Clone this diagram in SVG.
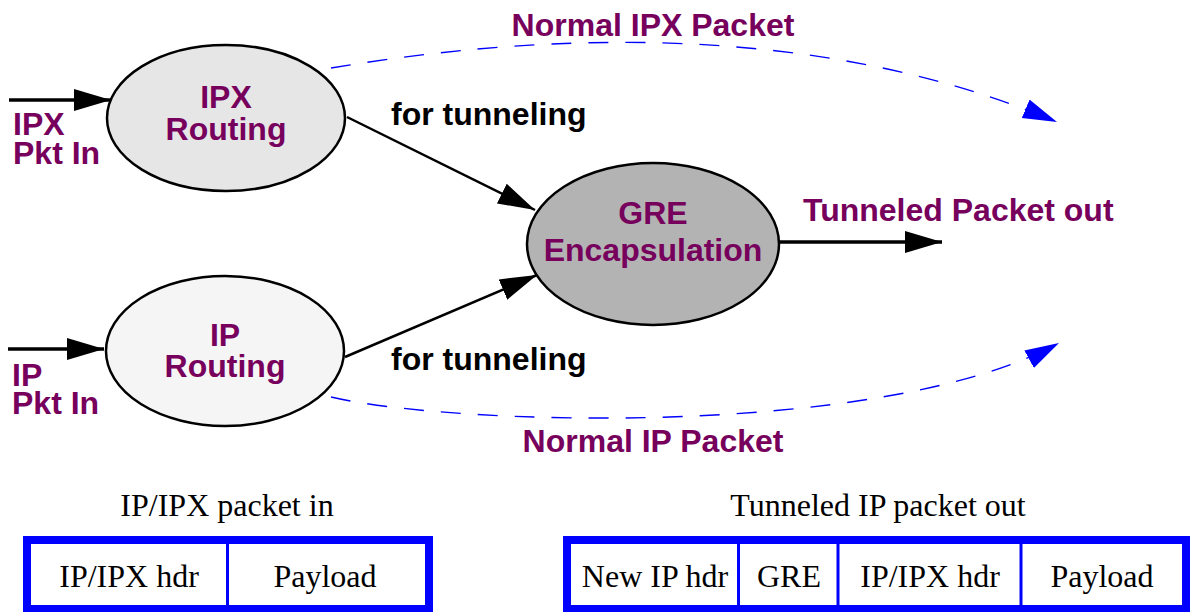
<svg xmlns="http://www.w3.org/2000/svg" width="1191" height="612" viewBox="0 0 1191 612">
  <style>
    .lbl { font-family: "Liberation Sans", Arial, sans-serif; font-weight: bold; font-size: 32px; fill: #76005c; }
    .note { font-family: "Liberation Sans", Arial, sans-serif; font-weight: bold; font-size: 32px; fill: #000; }
    .pkt { font-family: "Liberation Serif", "Times New Roman", serif; font-size: 32px; fill: #000; }
    .node { stroke: #000; stroke-width: 2.5; }
    .link { fill: none; stroke: #000; stroke-width: 2.5; }
    .inlink { fill: none; stroke: #000; stroke-width: 3.5; }
    .bypass { fill: none; stroke: #0000ff; stroke-width: 1.4; stroke-dasharray: 20 17; }
    .frame { fill: #fff; stroke: #0000ff; stroke-width: 8; }
    .cell { stroke: #0000ff; stroke-width: 3; }
  </style>
  <defs>
    <marker id="headBlack" markerUnits="userSpaceOnUse" markerWidth="40" markerHeight="24" refX="37" refY="11" orient="auto">
      <path d="M0,0 L37,11 L0,22 z" fill="#000"/>
    </marker>
    <marker id="headBlue" markerUnits="userSpaceOnUse" markerWidth="36" markerHeight="22" refX="34" refY="10" orient="auto">
      <path d="M0,0 L34,10 L0,20 z" fill="#0000ff"/>
    </marker>
  </defs>

  <rect width="1191" height="612" fill="#fff"/>

  <!-- connectors -->
  <g id="connectors">
    <line class="inlink" x1="9" y1="100" x2="111" y2="100" marker-end="url(#headBlack)"/>
    <line class="inlink" x1="8" y1="349" x2="104" y2="349" marker-end="url(#headBlack)"/>
    <line class="link" x1="347" y1="117" x2="535" y2="210" marker-end="url(#headBlack)"/>
    <line class="link" x1="345" y1="357" x2="537" y2="275" marker-end="url(#headBlack)"/>
    <line class="inlink" x1="780" y1="242" x2="942" y2="242" marker-end="url(#headBlack)"/>
    <path class="bypass" d="M331,68 C470,45 780,5 1057,122" marker-end="url(#headBlue)"/>
    <path class="bypass" d="M331,397 C450,425 880,440 1059,343" marker-end="url(#headBlue)"/>
  </g>

  <!-- routing nodes -->
  <g id="ipx-routing">
    <ellipse class="node" cx="226" cy="118" rx="119" ry="73" fill="#e6e6e6"/>
    <text class="lbl" x="226" y="108" text-anchor="middle">IPX</text>
    <text class="lbl" x="226" y="140" text-anchor="middle">Routing</text>
  </g>
  <g id="ip-routing">
    <ellipse class="node" cx="225" cy="351" rx="119" ry="75" fill="#f5f5f5"/>
    <text class="lbl" x="225" y="346" text-anchor="middle">IP</text>
    <text class="lbl" x="225" y="377" text-anchor="middle">Routing</text>
  </g>
  <g id="gre-encapsulation">
    <ellipse class="node" cx="653" cy="244" rx="126" ry="81" fill="#b3b3b3"/>
    <text class="lbl" x="653" y="224" text-anchor="middle">GRE</text>
    <text class="lbl" x="653" y="261" text-anchor="middle">Encapsulation</text>
  </g>

  <!-- flow labels -->
  <g id="labels">
    <text class="lbl" x="13" y="135">IPX</text>
    <text class="lbl" x="13" y="164">Pkt In</text>
    <text class="lbl" x="12" y="386">IP</text>
    <text class="lbl" x="12" y="414">Pkt In</text>
    <text class="lbl" x="653" y="36" text-anchor="middle">Normal IPX Packet</text>
    <text class="lbl" x="653" y="452" text-anchor="middle">Normal IP Packet</text>
    <text class="lbl" x="803" y="221">Tunneled Packet out</text>
    <text class="note" x="391" y="125">for tunneling</text>
    <text class="note" x="391" y="370">for tunneling</text>
  </g>

  <!-- packet layout: original -->
  <g id="packet-in">
    <text class="pkt" x="227" y="516" text-anchor="middle">IP/IPX packet in</text>
    <rect class="frame" x="27" y="540" width="402" height="69"/>
    <line class="cell" x1="227.5" y1="544" x2="227.5" y2="605"/>
    <text class="pkt" x="129" y="587" text-anchor="middle">IP/IPX hdr</text>
    <text class="pkt" x="325" y="587" text-anchor="middle">Payload</text>
  </g>

  <!-- packet layout: tunneled -->
  <g id="packet-out">
    <text class="pkt" x="878" y="516" text-anchor="middle">Tunneled IP packet out</text>
    <rect class="frame" x="567" y="540" width="619" height="69"/>
    <line class="cell" x1="738.5" y1="544" x2="738.5" y2="605"/>
    <line class="cell" x1="838" y1="544" x2="838" y2="605"/>
    <line class="cell" x1="1021" y1="544" x2="1021" y2="605"/>
    <text class="pkt" x="655" y="587" text-anchor="middle">New IP hdr</text>
    <text class="pkt" x="789" y="587" text-anchor="middle">GRE</text>
    <text class="pkt" x="930" y="587" text-anchor="middle">IP/IPX hdr</text>
    <text class="pkt" x="1102" y="587" text-anchor="middle">Payload</text>
  </g>
</svg>
